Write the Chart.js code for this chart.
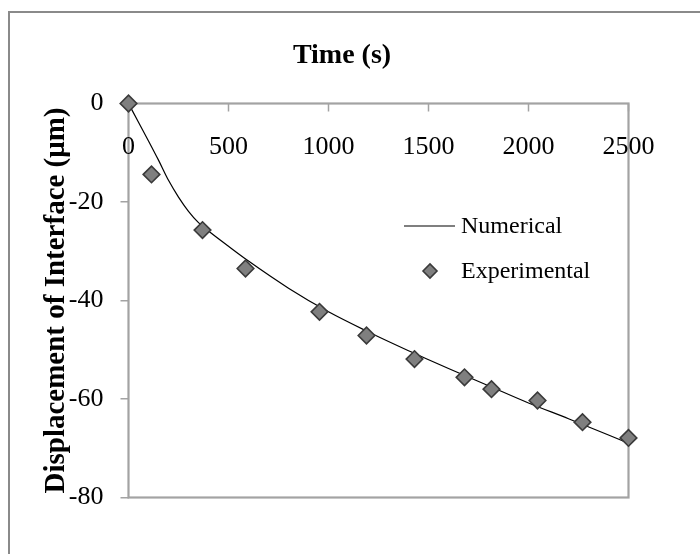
<!DOCTYPE html>
<html>
<head>
<meta charset="utf-8">
<title>Displacement of Interface</title>
<script src="https://cdn.jsdelivr.net/npm/chart.js@4.4.1/dist/chart.umd.min.js"></script>
<style>
  html, body { margin: 0; padding: 0; background: #fff; }
  #wrap { position: relative; width: 700px; height: 554px; }
</style>
</head>
<body>
<div id="wrap"><canvas id="chart"></canvas></div>
<script>
// numerical model (solid line)
const numTime = [0, 50, 100, 150, 200, 250, 300, 350, 400, 500, 600, 800, 1000, 1200, 1400, 1600, 1800, 2000, 2200, 2400, 2500];
const numDisp = [0, -3.8, -7.6, -11.5, -15.6, -19.0, -21.9, -24.2, -25.9, -29.0, -32.0, -37.5, -42.3, -46.4, -50.2, -53.8, -57.3, -60.8, -64.0, -67.3, -69.0];

// experimental measurements (diamonds)
const expTime = [0, 115, 370, 585, 955, 1190, 1430, 1680, 1815, 2045, 2270, 2500];
const expDisp = [0, -14.4, -25.7, -33.5, -42.3, -47.1, -51.9, -55.6, -58.0, -60.3, -64.7, -67.9];

// axis ticks
const xTicks = [0, 500, 1000, 1500, 2000, 2500];
const yTicks = [0, -20, -40, -60, -80];

const SERIF = "'Liberation Serif', 'Times New Roman', serif";
const AXIS_GRAY = "#a3a3a3";

// excel look: outer frame, plot box, x labels inside the plot, legend
const excelFrame = {
  id: "excelFrame",
  beforeDraw(chart) {
    const ctx = chart.ctx;
    ctx.save();
    ctx.strokeStyle = "#8a8a8a";
    ctx.lineWidth = 2;
    ctx.strokeRect(9, 12, chart.width, chart.height);
    ctx.restore();
  },
  beforeDatasetsDraw(chart) {
    const ctx = chart.ctx;
    const a = chart.chartArea;
    const x = chart.scales.x;
    ctx.save();
    ctx.strokeStyle = AXIS_GRAY;
    ctx.lineWidth = 2.2;
    ctx.strokeRect(a.left, a.top, a.right - a.left, a.bottom - a.top);
    // x ticks hang down from the top axis (y = 0)
    ctx.lineWidth = 1.5;
    ctx.fillStyle = "#000";
    ctx.font = "26px " + SERIF;
    ctx.textAlign = "center";
    ctx.textBaseline = "alphabetic";
    xTicks.forEach(v => {
      const px = x.getPixelForValue(v);
      ctx.beginPath();
      ctx.moveTo(px, a.top);
      ctx.lineTo(px, a.top + 8);
      ctx.stroke();
      ctx.fillText(String(v), px, a.top + 50);
    });
    ctx.restore();
  },
  afterDraw(chart) {
    const ctx = chart.ctx;
    const a = chart.chartArea;
    const x0 = a.left + 275.5;
    const textX = a.left + 332.5;
    let y = a.top + 122.5;
    ctx.save();
    ctx.font = "24px " + SERIF;
    ctx.fillStyle = "#000";
    ctx.textBaseline = "middle";
    chart.data.datasets.forEach(ds => {
      if (ds.type === "line") {
        ctx.strokeStyle = ds.borderColor;
        ctx.lineWidth = ds.borderWidth;
        ctx.beginPath();
        ctx.moveTo(x0, y);
        ctx.lineTo(x0 + 51, y);
        ctx.stroke();
      } else {
        ctx.fillStyle = ds.backgroundColor;
        ctx.strokeStyle = ds.borderColor;
        ctx.lineWidth = ds.borderWidth;
        Chart.helpers.drawPoint(ctx, { pointStyle: ds.pointStyle, radius: 7, borderWidth: ds.borderWidth }, x0 + 26, y);
        ctx.fillStyle = "#000";
      }
      ctx.fillText(ds.label, textX, y + 1);
      y += 45;
    });
    ctx.restore();
  }
};

new Chart(document.getElementById("chart"), {
  type: "scatter",
  data: {
    datasets: [
      {
        label: "Numerical",
        type: "line",
        data: numTime.map((t, i) => ({ x: t, y: numDisp[i] })),
        borderColor: "#000",
        borderWidth: 1.2,
        pointRadius: 0,
        cubicInterpolationMode: "monotone",
        fill: false,
        clip: false,
        order: 2
      },
      {
        label: "Experimental",
        data: expTime.map((t, i) => ({ x: t, y: expDisp[i] })),
        pointStyle: "rectRot",
        pointRadius: 8.3,
        backgroundColor: "#7f7f7f",
        borderColor: "#3a3a3a",
        borderWidth: 1.6,
        clip: false,
        order: 1
      }
    ]
  },
  options: {
    responsive: true,
    maintainAspectRatio: false,
    animation: false,
    layout: { padding: { left: 55.5, right: 71.5, top: 12, bottom: 56.5 } },
    plugins: {
      legend: { display: false },
      tooltip: { enabled: false },
      title: {
        display: true,
        text: "Time (s)",
        color: "#000",
        font: { family: SERIF, size: 28, weight: "bold" },
        padding: { top: 27, bottom: 30.9 }
      }
    },
    scales: {
      x: {
        type: "linear",
        display: false,
        min: xTicks[0],
        max: xTicks[xTicks.length - 1]
      },
      y: {
        min: Math.min(...yTicks),
        max: Math.max(...yTicks),
        ticks: {
          stepSize: 20,
          color: "#000",
          font: { family: SERIF, size: 26 },
          padding: 17
        },
        grid: { drawOnChartArea: false, tickLength: 8, color: AXIS_GRAY, lineWidth: 1.5 },
        border: { display: false },
        title: {
          display: true,
          text: "Displacement of Interface (μm)",
          color: "#000",
          font: { family: SERIF, size: 29, weight: "bold" },
          padding: { top: -16, bottom: 0 }
        },
        afterFit(s) { s.width = 73; }
      }
    }
  },
  plugins: [excelFrame]
});
</script>
</body>
</html>
